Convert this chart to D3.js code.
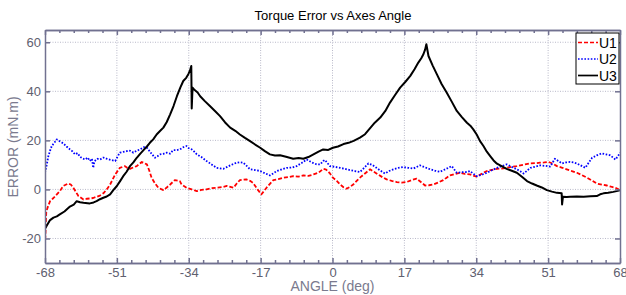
<!DOCTYPE html>
<html lang="en">
    <head>
        <meta charset="utf-8">
        <title>Torque Error vs Axes Angle</title>
        <script type="text/javascript" src="https://cdnjs.cloudflare.com/ajax/libs/d3/7.8.5/d3.min.js"></script>
        <style type="text/css">
            body { margin: 0; background: #fff; }
            text { font-family: Arial, "Liberation Sans", sans-serif; }
        </style>
    </head>
    <body>
        <script type="text/javascript">
            var w = 626;
            var h = 295;

            // tick labels
            var xTicks = [-68, -51, -34, -17, 0, 17, 34, 51, 68];
            var yTicks = [-20, 0, 20, 40, 60];
            var seriesNames = ["U1", "U2", "U3"];

            // U1 (red, dashed)
            var u1Angle = [-68, -67.7, -67.2, -66.8, -66, -65.2, -64.4, -63.7, -62.5, -61.9, -61.3, -60.7, -60.1, -58.9, -58.1, -57.4, -56.6, -55.8, -55, -54.2, -53.4, -52.6, -51.4, -50.3, -49.1, -48.5, -47.9, -47.1, -46.3, -45.1, -43.9, -43.3, -42.8, -42, -41.2, -40, -39.2, -38.4, -37.3, -36.1, -35.7, -34.5, -33.3, -32.1, -31, -29.8, -28.6, -27.4, -26.2, -25, -23.4, -22.6, -21.9, -20.4, -19.5, -18.8, -17.6, -16.8, -15.6, -14, -12.8, -11.6, -10.4, -9.3, -8.1, -6.9, -5.7, -4.5, -3.3, -2.2, -1.5, -0.6, 0.1, 1, 1.8, 2.6, 3.3, 4.1, 4.9, 5.9, 6.9, 7.9, 8.9, 9.8, 10.8, 11.8, 12.8, 14, 15.2, 16.4, 17.5, 18.7, 19.9, 20.9, 21.9, 22.8, 23.8, 25, 26.2, 27, 27.8, 29, 30.1, 31.3, 32.5, 34.1, 35.3, 36.5, 37.7, 38.9, 40, 41.2, 42.4, 43.6, 45.2, 46.8, 48, 49.1, 50.1, 51.1, 52.1, 53.1, 54.2, 55.4, 56.6, 57.8, 59, 60.2, 61.4, 62.5, 63.7, 64.9, 65.9, 66.9, 68];
            var u1Error = [-23, -9, -6.5, -4.8, -3.5, -2, -0.5, 1.4, 2.4, 2, 0.7, -1, -2.7, -4.1, -3.8, -3.7, -3.5, -3, -2.5, -1.6, 0, 2, 6.1, 8.8, 9.5, 8.7, 8.4, 9, 9.5, 11.2, 10.2, 7.5, 4.8, 2.5, 0.7, -0.3, 0.8, 2, 3.8, 3.4, 2, 0.7, 0, -0.7, -0.2, 0, 0.5, 0.7, 0.9, 1.4, 0.7, 2.5, 3.8, 4.1, 3.5, 2.7, -0.3, -2, 0.7, 3.8, 4.2, 4.8, 5, 5.4, 5.2, 5.7, 5.5, 6.1, 6.8, 8.4, 8.1, 6.5, 4.8, 3.5, 2, 0.9, 0.3, 1, 2, 3.8, 5.4, 6.8, 8.2, 7.2, 6.1, 5, 4.1, 3.5, 3, 2.8, 3, 3.8, 4.4, 3, 1.6, 1.7, 2, 2.8, 3.8, 4.8, 5.7, 6.3, 6.8, 6.3, 6.1, 5.2, 6.4, 7.5, 8, 8.4, 8.5, 8.8, 9.2, 9.5, 10.1, 10.6, 10.7, 10.9, 11, 11.2, 10.5, 9.5, 8.9, 8.2, 7.5, 6.8, 5.8, 4.8, 3.6, 2.4, 2, 1.6, 1.1, 0.7, -0.3];

            // U2 (blue, dotted)
            var u2Angle = [-68, -67.6, -67.2, -66.8, -66.4, -65.8, -65.2, -64.5, -63.7, -62.9, -62.1, -61.5, -60.9, -60.3, -59.7, -59.1, -58.5, -57.9, -57.4, -56.9, -56.6, -56.3, -55.6, -55, -54.2, -53.4, -52.4, -51.4, -50.8, -50.3, -49.5, -48.7, -47.9, -47.1, -46.3, -45.5, -44.7, -43.9, -43, -42, -41.4, -40.8, -40, -39.2, -38.4, -37.7, -36.9, -36.1, -35.3, -34.5, -34, -33.3, -32.7, -32.1, -31, -29.8, -28.6, -27.4, -26.6, -25.8, -25, -24.2, -23.4, -22.7, -21.9, -21.1, -20.3, -19.5, -18.3, -17.1, -16, -14.8, -14, -13.2, -12, -10.8, -9.6, -8.5, -7.3, -6.1, -4.9, -3.7, -2.9, -2.2, -1.8, -0.6, 0.6, 1.8, 2.9, 4.1, 5.3, 6.5, 7.5, 8.5, 9.5, 10.4, 11.4, 12.4, 13.4, 14.4, 15.6, 16.7, 17.9, 19.1, 20.7, 21.9, 23.1, 24.3, 25.4, 26.8, 28.2, 29.4, 30.6, 31.8, 32.5, 33.3, 34.1, 35.3, 36.5, 37.7, 38.9, 40, 41.2, 42.4, 43.6, 44.4, 45.2, 46, 46.8, 48, 49.1, 50.3, 51.5, 52.6, 53.4, 54.3, 55.2, 56.2, 57, 57.8, 58.8, 59.8, 60.6, 61.4, 62.5, 63.7, 64.7, 65.7, 66.9, 67.5, 68];
            var u2Error = [6.8, 10, 13.6, 15.8, 17.7, 19, 20.4, 19.6, 18.8, 17.5, 16.3, 15.5, 14.3, 14.8, 13.3, 12.6, 12.2, 13, 11.6, 12.5, 8.8, 11.5, 12.5, 12.2, 13, 12.5, 12, 11.6, 13.5, 15, 15.3, 15.6, 15.8, 15, 15.8, 16.3, 17.2, 17, 15, 12.9, 13.5, 14.3, 14.5, 15, 14.6, 16, 16, 16.3, 17.2, 17.7, 16.8, 16.3, 15.4, 14.3, 13.2, 11.6, 10.2, 8.8, 8.6, 8.4, 9.1, 9.8, 10.4, 10.9, 11.1, 10.9, 9.6, 8.2, 7.9, 7.5, 6.6, 5.7, 6.5, 7.5, 8.2, 8.8, 8.9, 9.5, 10.8, 12.2, 11, 10.2, 10.2, 11.6, 12, 9.5, 9.2, 8.8, 8.4, 7.9, 7.5, 7.1, 8.8, 10.6, 9.9, 8.8, 7.6, 6.5, 7.5, 8.2, 8.8, 9.1, 8.8, 8.5, 9.8, 9, 8.2, 7.6, 7.2, 8.3, 9.5, 6.8, 7, 7.1, 7.5, 6.4, 5.4, 6, 6.8, 7.8, 8.8, 9.5, 10.2, 9.2, 8.2, 7.4, 6.5, 7.6, 8.8, 9.3, 9.8, 9.6, 9.3, 12.5, 11.6, 10.6, 11, 11.2, 11, 10.6, 9.7, 8.8, 10.9, 12.9, 13.9, 14.7, 14.3, 13.9, 12.2, 13.5, 15];

            // U3 (black, solid)
            var u3Angle = [-68, -67.5, -66.8, -66, -65.2, -64.5, -63.4, -62.1, -61.2, -60.5, -59.7, -58.9, -57.4, -56.5, -55.8, -55, -54.2, -53.4, -52.6, -51.8, -51, -50.2, -49.5, -48.7, -47.9, -47.1, -46.3, -45.5, -44.7, -43.9, -43.2, -42.4, -41.6, -40.8, -40, -39.2, -38.4, -37.6, -36.8, -36, -35.3, -34.6, -34.1, -33.7, -33.4, -33.3, -33.1, -32.6, -31.9, -31.3, -30.2, -29, -27.8, -26.6, -25.4, -24.2, -23, -21.9, -20.7, -19.5, -18.3, -17.1, -16, -14.8, -13.6, -12.4, -11, -9.3, -8, -6.9, -5.7, -4.5, -3.3, -2.2, -1, 0.1, 1.3, 2.6, 3.8, 5, 6.5, 7.7, 8.9, 10, 11.3, 12.5, 13.6, 14.8, 16, 17.2, 18.4, 19.4, 20.3, 21, 21.5, 21.9, 22.2, 22.7, 23.7, 24.7, 25.8, 27, 28.2, 29.4, 30.6, 31.8, 32.6, 33.3, 34.1, 34.9, 35.7, 36.5, 37.3, 38.1, 38.9, 40, 41.2, 42.4, 43.6, 44.8, 46, 47.2, 48.3, 49.5, 50.7, 51.9, 53.1, 54.2, 54.3, 54.5, 55.4, 56.2, 57.8, 59.4, 61, 62.5, 63.3, 64.1, 65.2, 66.4, 67.2, 68];
            var u3Error = [-16, -14.5, -12.5, -11.5, -11, -10.2, -9, -7, -6.2, -4.8, -5.2, -5.4, -5.7, -5.3, -4.8, -4, -3.4, -2.9, -2, -0.2, 1.4, 3.5, 5.4, 7.2, 9.5, 11, 12.9, 14.5, 16, 17.5, 19, 20.4, 22.4, 23.8, 25.2, 27.5, 30.6, 34, 38, 41.5, 44.2, 45.5, 47, 48.5, 50.3, 33, 41.5, 40.5, 39.5, 38, 36, 34, 32, 29.9, 27.3, 25.2, 23.9, 22.4, 21, 19.7, 18.3, 17, 15.6, 14.3, 13.8, 13.9, 13.3, 12.5, 12.8, 12.5, 13.2, 14.3, 15.4, 16.3, 16.1, 17, 17.5, 18.5, 19, 19.8, 21.1, 22.5, 25, 27.2, 29.3, 32, 35.4, 38.5, 41.5, 43.8, 46.3, 49, 51.7, 53.5, 55.1, 57, 59.2, 54.4, 50.5, 46.9, 43, 39.5, 35.8, 32, 29.5, 27.2, 26, 24.5, 22.4, 19.7, 17.7, 15.4, 13.6, 11.8, 10.5, 9.5, 8.4, 7.6, 6.8, 5.2, 3.4, 2.4, 1.6, 0.8, -0.3, -0.9, -1.4, -1.6, -6.1, -3, -3.1, -3, -2.9, -3, -2.8, -2.7, -2, -1.6, -1.4, -1, -0.7, -0.3];

            var series = [
                { name: seriesNames[0], x: u1Angle, y: u1Error, color: "#ff0000", dash: "4,2", width: 1.8 },
                { name: seriesNames[1], x: u2Angle, y: u2Error, color: "#0000ff", dash: "1.6,1.6", width: 1.8 },
                { name: seriesNames[2], x: u3Angle, y: u3Error, color: "#000000", dash: null, width: 2 }
            ];

            var plotLeft = 45, plotRight = 620, plotTop = 30, plotBottom = 263;
            var axisColor = "#717190";
            var labelColor = "#60606f";

            var x = d3.scaleLinear().domain([-68, 68]).range([plotLeft, plotRight]);
            var y = d3.scaleLinear().domain([-30, 65]).range([plotBottom, plotTop]);

            var svg = d3.select("body")
                        .append("svg")
                        .attr("width", w)
                        .attr("height", h);

            svg.append("rect")
               .attr("x", plotLeft).attr("y", plotTop)
               .attr("width", plotRight - plotLeft).attr("height", plotBottom - plotTop)
               .attr("fill", "#fff");

            // grid
            svg.append("g")
               .selectAll("line")
               .data(xTicks.slice(1, -1))
               .enter()
               .append("line")
               .attr("x1", function (d) { return x(d); })
               .attr("x2", function (d) { return x(d); })
               .attr("y1", plotTop).attr("y2", plotBottom)
               .attr("stroke", "#b9b9c9")
               .attr("stroke-width", 1)
               .attr("stroke-dasharray", "1,1.5");

            svg.append("g")
               .selectAll("line")
               .data(yTicks)
               .enter()
               .append("line")
               .attr("x1", plotLeft).attr("x2", plotRight)
               .attr("y1", function (d) { return y(d); })
               .attr("y2", function (d) { return y(d); })
               .attr("stroke", "#b9b9c9")
               .attr("stroke-width", 1)
               .attr("stroke-dasharray", "1,1.5");

            // series
            var line = d3.line()
                         .x(function (d) { return x(d[0]); })
                         .y(function (d) { return y(d[1]); });

            svg.append("clipPath").attr("id", "plot")
               .append("rect")
               .attr("x", plotLeft).attr("y", plotTop)
               .attr("width", plotRight - plotLeft).attr("height", plotBottom - plotTop);

            svg.append("g")
               .attr("clip-path", "url(#plot)")
               .selectAll("path")
               .data(series)
               .enter()
               .append("path")
               .attr("d", function (s) { return line(d3.zip(s.x, s.y)); })
               .attr("fill", "none")
               .attr("stroke", function (s) { return s.color; })
               .attr("stroke-width", function (s) { return s.width; })
               .attr("stroke-dasharray", function (s) { return s.dash; })
               .attr("stroke-linejoin", "round");

            // axes
            var minorX = d3.range(-68, 68.01, 3.4).filter(function (v) {
                return xTicks.indexOf(Math.round(v * 10) / 10) < 0;
            });

            function styleAxis(g) {
                g.select(".domain").attr("stroke", axisColor).attr("stroke-width", 1.5);
                g.selectAll(".tick line").attr("stroke", axisColor).attr("stroke-width", 1.5);
                g.selectAll(".tick text")
                 .attr("fill", labelColor)
                 .style("font-size", "13px")
                 .style("font-family", "Arial, 'Liberation Sans', sans-serif");
            }

            function minus(d) { return d < 0 ? "-" + Math.abs(d) : d; }

            svg.append("g")
               .attr("transform", "translate(0," + plotBottom + ")")
               .call(d3.axisBottom(x).tickValues(minorX).tickSize(-3).tickFormat("").tickSizeOuter(0))
               .call(styleAxis);
            svg.append("g")
               .attr("transform", "translate(0," + plotTop + ")")
               .call(d3.axisTop(x).tickValues(minorX).tickSize(-3).tickFormat("").tickSizeOuter(0))
               .call(styleAxis);

            svg.append("g")
               .attr("transform", "translate(0," + plotBottom + ")")
               .call(d3.axisBottom(x).tickValues(xTicks).tickSize(-5).tickPadding(5).tickSizeOuter(0).tickFormat(minus))
               .call(styleAxis);
            svg.append("g")
               .attr("transform", "translate(0," + plotTop + ")")
               .call(d3.axisTop(x).tickValues(xTicks).tickSize(-5).tickFormat("").tickSizeOuter(0))
               .call(styleAxis);
            svg.append("g")
               .attr("transform", "translate(" + plotLeft + ",0)")
               .call(d3.axisLeft(y).tickValues(yTicks).tickSize(-5).tickPadding(4).tickSizeOuter(0).tickFormat(minus))
               .call(styleAxis);
            svg.append("g")
               .attr("transform", "translate(" + plotRight + ",0)")
               .call(d3.axisRight(y).tickValues(yTicks).tickSize(-5).tickFormat("").tickSizeOuter(0))
               .call(styleAxis);

            // titles
            svg.append("text")
               .attr("x", (plotLeft + plotRight) / 2 + 0.5)
               .attr("y", 19.5)
               .attr("text-anchor", "middle")
               .style("font-size", "13px")
               .attr("fill", "#000")
               .text("Torque Error vs Axes Angle");

            svg.append("text")
               .attr("x", (plotLeft + plotRight) / 2)
               .attr("y", 291)
               .attr("text-anchor", "middle")
               .style("font-size", "14px")
               .attr("fill", "#7a7a8e")
               .text("ANGLE (deg)");

            svg.append("text")
               .attr("transform", "translate(18,147) rotate(-90)")
               .attr("text-anchor", "middle")
               .style("font-size", "14px")
               .attr("fill", "#7a7a8e")
               .text("ERROR (mN.m)");

            // legend
            var legend = svg.append("g").attr("transform", "translate(576,33)");
            legend.append("rect")
                  .attr("width", 43).attr("height", 51)
                  .attr("fill", "#fff")
                  .attr("stroke", "#000")
                  .attr("stroke-width", 1);

            var item = legend.selectAll("g.item")
                             .data(series)
                             .enter()
                             .append("g")
                             .attr("class", "item")
                             .attr("transform", function (d, i) { return "translate(0," + (9.5 + i * 16.5) + ")"; });
            item.append("line")
                .attr("x1", 2).attr("x2", 22)
                .attr("stroke", function (s) { return s.color; })
                .attr("stroke-width", function (s) { return s.width - 0.3; })
                .attr("stroke-dasharray", function (s) { return s.dash; });
            item.append("text")
                .attr("x", 23)
                .attr("y", 5)
                .style("font-size", "14px")
                .attr("fill", "#000")
                .text(function (s) { return s.name; });
        </script>
    </body>
</html>
